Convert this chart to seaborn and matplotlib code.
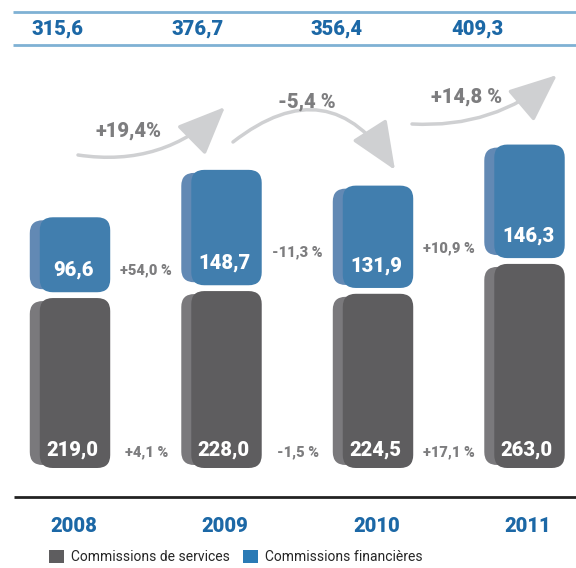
"""
Commissions bars
================

"""
# Libraries
import numpy as np
import pandas as pd
import seaborn as sns
import matplotlib.pyplot as plt

from matplotlib.patches import FancyBboxPatch, FancyArrowPatch, Patch

# -------------------
# DATA
# -------------------
years = ['2008', '2009', '2010', '2011']
services = [219.0, 228.0, 224.5, 263.0]
financieres = [96.6, 148.7, 131.9, 146.3]
totals = [315.6, 376.7, 356.4, 409.3]
growth_fin = ['+54,0 %', '-11,3 %', '+10,9 %']
growth_srv = ['+4,1 %', '-1,5 %', '+17,1 %']
growth_tot = ['+19,4%', '-5,4 %', '+14,8 %']

# -------------------
# PLOTTING SETTINGS
# -------------------
W, H = 576, 568
PXX = 151.5       # pixels per category
PYY = 0.776       # pixels per unit of value
X0, Y0 = 75, 468  # pixel position of first bar centre / baseline
GAP = 7.5         # gap between stacked blocks (value units)

c_dark, c_dark_side = '#5e5d5f', '#7a797c'
c_blue, c_blue_side = '#417eae', '#6289b4'
c_text_blue = '#1c68a6'
c_grey = '#7d7d7f'
c_arrow = '#cfd0d2'
BOLD = 'black'

sns.set_style('white')
plt.rcParams['font.family'] = ['Roboto', 'DejaVu Sans']


def fx(px):
    return px / W


def fy(py):
    return 1 - py / H


def fmt(v):
    return f'{v:.1f}'.replace('.', ',')


def block(ax, x, y, w, h, front, side):
    """Replace a flat bar by a rounded pseudo-3D block."""
    r = 13 / PXX
    asp = PXX / PYY
    ax.add_patch(FancyBboxPatch((x - 10 / PXX, y + 3 / PYY), w * 0.5,
                                h - 6 / PYY, boxstyle=f'round,pad=0,rounding_size={r}',
                                mutation_aspect=asp, fc=side, ec='none', zorder=2))
    ax.add_patch(FancyBboxPatch((x, y), w, h,
                                boxstyle=f'round,pad=0,rounding_size={r}',
                                mutation_aspect=asp, fc=front, ec='none', zorder=3))


# Create figure
fig = plt.figure(figsize=(W / 100, H / 100), dpi=100)
ax = fig.add_axes([0, 0, 1, 1])

data = pd.DataFrame({'year': years, 'services': services,
                     'financieres': financieres})

sns.barplot(data=data, x='year', y='services', color=c_dark, width=0.465, ax=ax)
n = len(ax.patches)
sns.barplot(data=data, x='year', y='financieres', color=c_blue, width=0.465, ax=ax)

bars = list(ax.patches)
for i, p in enumerate(bars):
    x, w, h = p.get_x(), p.get_width(), p.get_height()
    p.remove()
    if i < n:
        block(ax, x, 0, w, h, c_dark, c_dark_side)
    else:
        block(ax, x, services[i - n] + GAP, w, h, c_blue, c_blue_side)

ax.set_xlim(-X0 / PXX, (W - X0) / PXX)
ax.set_ylim(-(H - Y0) / PYY, Y0 / PYY)
ax.axis('off')

# Values inside bars
for i in range(len(years)):
    ax.text(i - 0.02, 23, fmt(services[i]), color='white', fontsize=14.5,
            fontweight=BOLD, ha='center', va='center', zorder=5)
    ax.text(i - 0.01, services[i] + GAP + 28, fmt(financieres[i]),
            color='white', fontsize=14.5, fontweight=BOLD,
            ha='center', va='center', zorder=5)

# Growth labels between bars
fin_y = [255, 278, 283.5]
for i in range(len(growth_fin)):
    ax.text(i + 0.47, fin_y[i], growth_fin[i], color=c_grey, fontsize=10.5,
            fontweight=BOLD, ha='center', va='center')
    ax.text(i + 0.47, 20.6, growth_srv[i], color=c_grey, fontsize=10.5,
            fontweight=BOLD, ha='center', va='center')

# Years
for i, y in enumerate(years):
    ax.text(i - 0.01, -76, y, color=c_text_blue, fontsize=14.5,
            fontweight=BOLD, ha='center', va='center')

# Top band with totals
for yy in [12, 45]:
    ax.plot([fx(13), fx(576)], [fy(yy), fy(yy)], color='#7fb1d4', lw=2,
            transform=ax.transAxes, solid_capstyle='butt')
for px, v in zip([58, 198, 337, 477], totals):
    ax.text(fx(px), fy(29), fmt(v), color=c_text_blue, fontsize=14.5,
            fontweight=BOLD, ha='center', va='center', transform=ax.transAxes)

# Bottom axis line
ax.plot([fx(14), fx(576)], [fy(497), fy(497)], color='#222222', lw=2,
        transform=ax.transAxes, solid_capstyle='butt')

# Curved arrows with total growth
arrows = [((78, 155), (225, 107), 0.25),
          ((233, 142), (395, 170), -0.55),
          ((412, 124), (557, 75), 0.2)]
for (a, b, rad) in arrows:
    ax.add_patch(FancyArrowPatch((fx(a[0]), fy(a[1])), (fx(b[0]), fy(b[1])),
                                 transform=ax.transAxes,
                                 connectionstyle=f'arc3,rad={rad}',
                                 arrowstyle='-|>,head_length=2.0,head_width=0.85',
                                 mutation_scale=15, lw=2.5, color=c_arrow,
                                 shrinkA=0, shrinkB=0))
for (px, py), t in zip([(128, 131), (307, 102), (467, 97)], growth_tot):
    ax.text(fx(px), fy(py), t, color=c_grey, fontsize=14.5, fontweight=BOLD,
            ha='center', va='center', transform=ax.transAxes)

# Legend
handles = [Patch(fc=c_dark, ec='none', label='Commissions de services'),
           Patch(fc='#2a7ab5', ec='none', label='Commissions financières')]
ax.legend(handles=handles, ncol=2, frameon=False, loc='upper left',
          bbox_to_anchor=(fx(49), fy(550)), fontsize=10,
          handlelength=1.1, handleheight=1.1, handletextpad=0.5,
          columnspacing=0.9, borderpad=0, borderaxespad=0)

plt.savefig('out.png', dpi=100)
